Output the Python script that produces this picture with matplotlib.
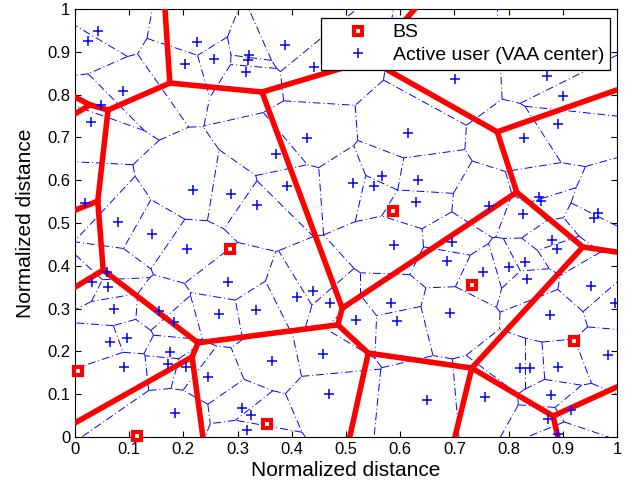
import numpy as np
import matplotlib
matplotlib.use('Agg')
import matplotlib.pyplot as plt
import matplotlib.tri as mtri
from matplotlib.collections import LineCollection

plt.rcParams['font.family'] = ['Liberation Sans', 'DejaVu Sans']

# base stations
bs_x = [0.006, 0.114, 0.286, 0.354, 0.587, 0.732, 0.920]
bs_y = [0.154, 0.002, 0.439, 0.030, 0.528, 0.355, 0.224]

# active users (VAA centers)
user_x = [0.042, 0.024, 0.225, 0.203, 0.256, 0.321, 0.319, 0.316, 0.089, 0.048,
          0.387, 0.441, 0.701, 0.871, 0.900, 0.030, 0.218, 0.288, 0.018, 0.079,
          0.428, 0.614, 0.371, 0.566, 0.513, 0.552, 0.633, 0.391, 0.336, 0.629,
          0.891, 0.828, 0.856, 0.860, 0.764, 0.827, 0.965, 0.958, 0.142, 0.207,
          0.059, 0.061, 0.031, 0.282, 0.072, 0.266, 0.155, 0.183, 0.096, 0.589,
          0.439, 0.410, 0.470, 0.334, 0.583, 0.518, 0.594, 0.696, 0.880, 0.889,
          0.686, 0.830, 0.801, 0.753, 0.834, 0.952, 0.996, 0.692, 0.876, 0.065,
          0.175, 0.172, 0.090, 0.205, 0.245, 0.185, 0.308, 0.325, 0.317, 0.458,
          0.363, 0.469, 0.649, 0.983, 0.821, 0.839, 0.891, 0.756, 0.878, 0.873,
          0.915, 0.891]
user_y = [0.949, 0.925, 0.923, 0.871, 0.883, 0.893, 0.881, 0.853, 0.808, 0.776,
          0.916, 0.864, 0.836, 0.843, 0.797, 0.736, 0.577, 0.568, 0.547, 0.502,
          0.699, 0.710, 0.661, 0.610, 0.593, 0.586, 0.600, 0.586, 0.542, 0.549,
          0.731, 0.699, 0.561, 0.551, 0.540, 0.521, 0.523, 0.512, 0.474, 0.439,
          0.386, 0.350, 0.362, 0.362, 0.299, 0.287, 0.294, 0.269, 0.231, 0.449,
          0.341, 0.327, 0.313, 0.297, 0.313, 0.273, 0.271, 0.456, 0.460, 0.439,
          0.411, 0.409, 0.397, 0.386, 0.369, 0.353, 0.313, 0.290, 0.285, 0.222,
          0.199, 0.171, 0.164, 0.164, 0.140, 0.056, 0.068, 0.051, 0.016, 0.194,
          0.178, 0.100, 0.086, 0.192, 0.161, 0.161, 0.164, 0.093, 0.098, 0.042,
          0.063, 0.007]

# BS cell boundaries: vertices and the edges joining them
red_nodes = {
    'top1': (0.166, 1.0), 'B': (0.175, 0.827), 'C': (0.061, 0.764),
    'X': (0.028, 0.776), 'l1': (0.0, 0.794), 'l2': (0.0, 0.755),
    'D': (0.345, 0.806), 'P': (0.544, 0.881), 'top2': (0.627, 1.0),
    'E': (0.779, 0.713), 'r1': (1.0, 0.811), 'J': (0.815, 0.572),
    'M': (0.937, 0.444), 'r2': (1.0, 0.432), 'I': (0.493, 0.301),
    'H': (0.485, 0.262), 'G1': (0.227, 0.220), 'K': (0.541, 0.196),
    'b1': (0.507, 0.0), 'L': (0.732, 0.161), 'b2': (0.701, 0.0),
    'N': (0.882, 0.049), 'r3': (1.0, 0.117), 'b3': (0.891, 0.0),
    'G2': (0.216, 0.187), 'l3': (0.0, 0.033), 'b4': (0.236, 0.0),
    'F': (0.052, 0.390), 'l4': (0.0, 0.350), 'Q': (0.042, 0.551),
    'l5': (0.0, 0.530),
}
red_edges = [('top1', 'B'), ('B', 'C'), ('B', 'D'), ('C', 'X'), ('X', 'l1'),
             ('X', 'l2'), ('D', 'P'), ('P', 'top2'), ('P', 'E'), ('E', 'r1'),
             ('E', 'J'), ('J', 'M'), ('M', 'r2'), ('J', 'I'), ('D', 'I'),
             ('I', 'H'), ('H', 'G1'), ('H', 'K'), ('K', 'b1'), ('K', 'L'),
             ('L', 'M'), ('L', 'b2'), ('L', 'N'), ('N', 'r3'), ('N', 'b3'),
             ('G1', 'F'), ('G1', 'G2'), ('G2', 'l3'), ('G2', 'b4'),
             ('F', 'l4'), ('F', 'Q'), ('Q', 'l5'), ('Q', 'C')]


def voronoi_edges(x, y):
    # mirror the points across the unit square so cells close on the border
    x = np.asarray(x); y = np.asarray(y)
    px = np.concatenate([x, -x, 2 - x, x, x])
    py = np.concatenate([y, y, y, -y, 2 - y])
    tri = mtri.Triangulation(px, py)
    t = tri.triangles
    ax_, ay_ = px[t[:, 0]], py[t[:, 0]]
    bx_, by_ = px[t[:, 1]], py[t[:, 1]]
    cx_, cy_ = px[t[:, 2]], py[t[:, 2]]
    d = 2 * (ax_ * (by_ - cy_) + bx_ * (cy_ - ay_) + cx_ * (ay_ - by_))
    a2 = ax_**2 + ay_**2; b2 = bx_**2 + by_**2; c2 = cx_**2 + cy_**2
    ux = (a2 * (by_ - cy_) + b2 * (cy_ - ay_) + c2 * (ay_ - by_)) / d
    uy = (a2 * (cx_ - bx_) + b2 * (ax_ - cx_) + c2 * (bx_ - ax_)) / d
    segs = []
    eps = 1e-6
    for i, nb in enumerate(tri.neighbors):
        for j in nb:
            if j > i:
                p, q = (ux[i], uy[i]), (ux[j], uy[j])
                mx, my = (p[0] + q[0]) / 2, (p[1] + q[1]) / 2
                if eps < mx < 1 - eps and eps < my < 1 - eps:
                    segs.append([p, q])
    return segs


fig = plt.figure(figsize=(6.39, 4.9), dpi=100)
ax = fig.add_axes([75 / 639, 53 / 490, 542 / 639, 428 / 490])

lc = LineCollection(voronoi_edges(user_x, user_y), colors='blue',
                    linewidths=0.7, linestyles=[(0, (8, 3, 1, 3))])
ax.add_collection(lc)

for a, b in red_edges:
    (x1, y1), (x2, y2) = red_nodes[a], red_nodes[b]
    ax.plot([x1, x2], [y1, y2], color='red', lw=4, solid_capstyle='round', zorder=3)

ax.plot(bs_x, bs_y, 's', color='red', mfc='white', mec='red', ms=5.5, mew=3,
        label='BS', zorder=5, clip_on=False)
ax.plot(user_x, user_y, '+', color='blue', ms=7, mew=1.1, label='Active user (VAA center)',
        zorder=4)

ax.set_xlim(0, 1)
ax.set_ylim(0, 1)
ticks = np.arange(0, 1.01, 0.1)
labels = ['0'] + ['%.1f' % v for v in ticks[1:-1]] + ['1']
ax.set_xticks(ticks)
ax.set_xticklabels(labels)
ax.set_yticks(ticks)
ax.set_yticklabels(labels)
ax.tick_params(direction='in', top=True, right=True, labelsize=12, length=4)
ax.set_xlabel('Normalized distance', fontsize=15, labelpad=3)
ax.set_ylabel('Normalized distance', fontsize=15, labelpad=9)

leg = ax.legend(loc='upper right', bbox_to_anchor=(0.987, 0.979), borderaxespad=0,
                fancybox=False, framealpha=1, edgecolor='black', fontsize=14,
                handlelength=3.2, handletextpad=0.2, borderpad=0.3,
                labelspacing=0.25)
leg.get_frame().set_linewidth(0.9)
leg.set_zorder(10)

fig.savefig('out.png', dpi=100)
